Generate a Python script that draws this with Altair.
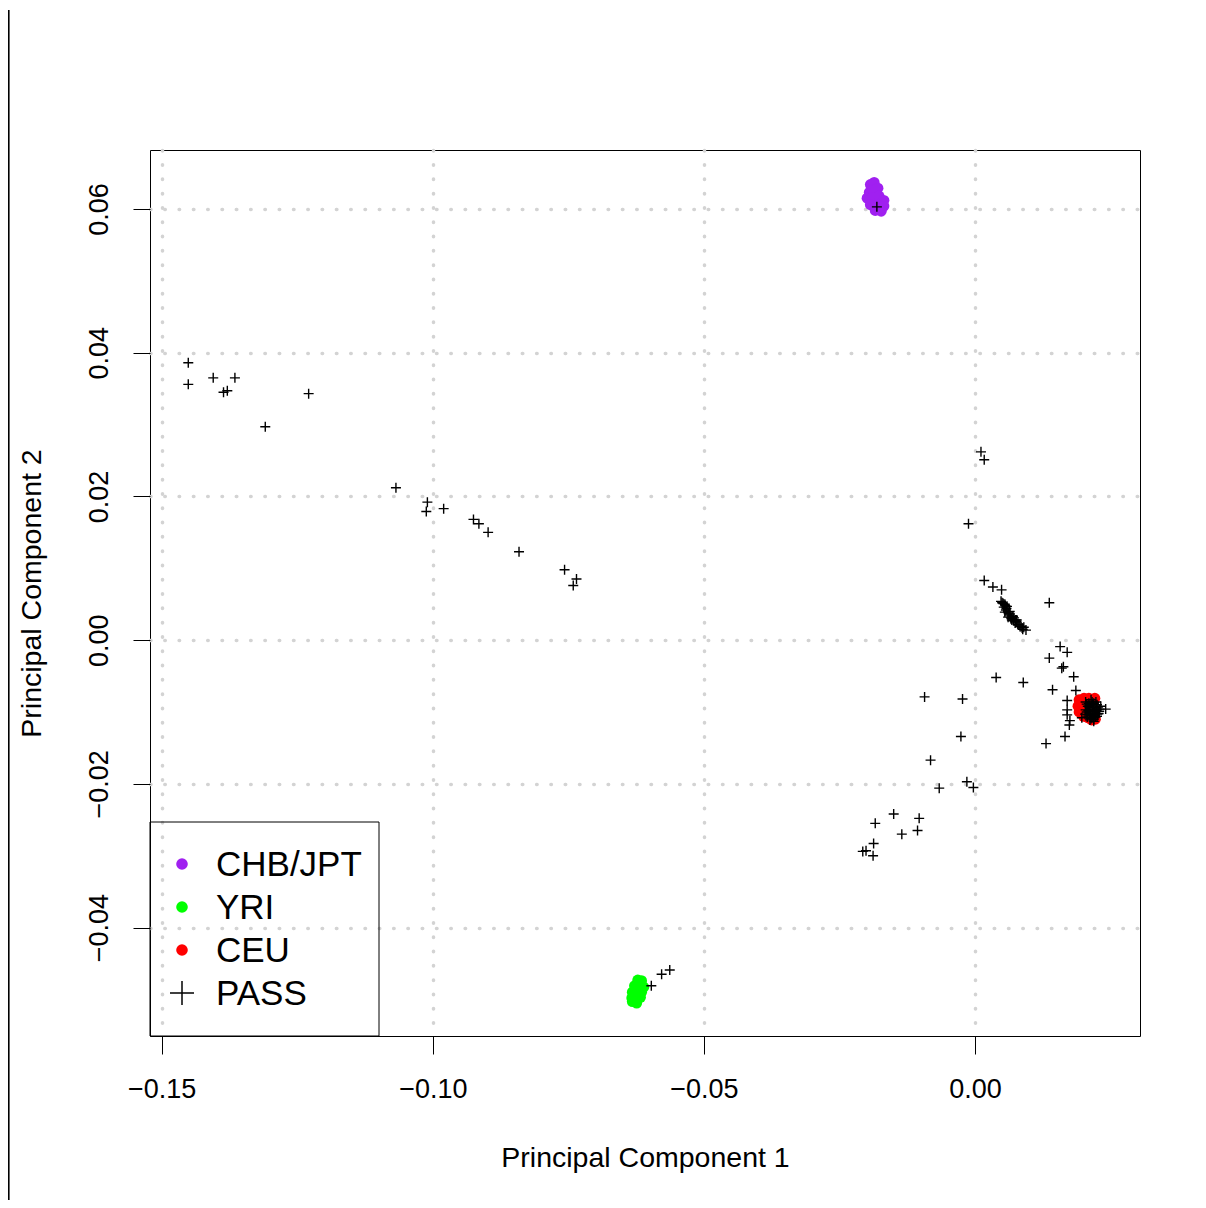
import altair as alt
import pandas as pd

# ---- data ----
chb_x = [-0.0193, -0.0186, -0.0195, -0.0188, -0.0179, -0.0199, -0.0190, -0.0177,
         -0.0168, -0.0193, -0.0180, -0.0168, -0.0184, -0.0173]
chb_y = [0.0634, 0.0637, 0.0623, 0.0626, 0.0629, 0.0615, 0.0615, 0.0618,
         0.0612, 0.0606, 0.0606, 0.0604, 0.0598, 0.0597]

yri_x = [-0.0622, -0.0615, -0.0628, -0.0619, -0.0611, -0.0632, -0.0622, -0.0615,
         -0.0633, -0.0624, -0.0617, -0.0632, -0.0624]
yri_y = [-0.0473, -0.0474, -0.0481, -0.0481, -0.0483, -0.0490, -0.0490, -0.0490,
         -0.0498, -0.0498, -0.0497, -0.0503, -0.0505]

ceu_x = [0.0192, 0.0201, 0.0210, 0.0190, 0.0199, 0.0192, 0.0203, 0.0208,
         0.0215, 0.0221, 0.0200, 0.0222]
ceu_y = [-0.0083, -0.0081, -0.0081, -0.0092, -0.0090, -0.0100, -0.0100, -0.0108,
         -0.0111, -0.0081, -0.0106, -0.0110]

pass_x = [
    -0.1451, -0.1451, -0.1405, -0.1365, -0.1386, -0.1379, -0.1229, -0.1309,
    -0.1068, -0.1010, -0.1012, -0.0980, -0.0925, -0.0915, -0.0898, -0.0841,
    -0.0757, -0.0735, -0.0741,
    -0.0597, -0.0578, -0.0563,
    -0.0181,
    0.0011, 0.0017, -0.0012, 0.0017, 0.0033, 0.0049,
    0.0048, 0.0052, 0.0055, 0.0053, 0.0059, 0.0057, 0.0061, 0.0064, 0.0063,
    0.0066, 0.0070, 0.0068, 0.0072, 0.0076, 0.0074, 0.0079, 0.0077, 0.0083,
    0.0087, 0.0090, 0.0094, 0.0061, 0.0055,
    0.0050, 0.0058, 0.0062, 0.0067, 0.0071, 0.0075, 0.0081, 0.0085, 0.0088, 0.0056,
    0.0137, 0.0157, 0.0170, 0.0137, 0.0163, 0.0160, 0.0039, 0.0089, 0.0143,
    0.0182, 0.0186, 0.0170, 0.0170, 0.0170, 0.0175, 0.0174, 0.0166, 0.0131,
    0.0197, 0.0241,
    -0.0093, -0.0023, -0.0026, -0.0082, -0.0015, -0.0003, -0.0066, -0.0150,
    -0.0103, -0.0184, -0.0106, -0.0135, -0.0187, -0.0207, -0.0201, -0.0188,
    0.0204, 0.0214, 0.0223, 0.0208, 0.0217, 0.0227, 0.0204, 0.0214, 0.0223,
    0.0230, 0.0208, 0.0217, 0.0225, 0.0212, 0.0219, 0.0210, 0.0212, 0.0221,
    0.0216, 0.0228, 0.0206,
    0.0206, 0.0211, 0.0219, 0.0225, 0.0229, 0.0226, 0.0220, 0.0213, 0.0209,
    0.0203, 0.0218, 0.0222, 0.0214, 0.0219, 0.0211, 0.0232, 0.0224, 0.0207,
    0.0216, 0.0221,
]
pass_y = [
    0.0386, 0.0356, 0.0365, 0.0365, 0.0345, 0.0347, 0.0343, 0.0297,
    0.0212, 0.0192, 0.0179, 0.0183, 0.0168, 0.0162, 0.0150, 0.0123,
    0.0098, 0.0085, 0.0076,
    -0.0481, -0.0465, -0.0459,
    0.0603,
    0.0262, 0.0251, 0.0162, 0.0083, 0.0074, 0.0070,
    0.0054, 0.0051, 0.0050, 0.0046, 0.0047, 0.0042, 0.0039, 0.0040, 0.0035,
    0.0032, 0.0033, 0.0028, 0.0031, 0.0026, 0.0024, 0.0022, 0.0028, 0.0019,
    0.0017, 0.0018, 0.0014, 0.0032, 0.0039,
    0.0052, 0.0044, 0.0037, 0.0030, 0.0027, 0.0028, 0.0021, 0.0019, 0.0015, 0.0048,
    0.0052, -0.0009, -0.0017, -0.0025, -0.0037, -0.0039, -0.0052, -0.0059, -0.0069,
    -0.0051, -0.0070, -0.0084, -0.0097, -0.0104, -0.0112, -0.0118, -0.0134, -0.0144,
    -0.0108, -0.0096,
    -0.0079, -0.0082, -0.0134, -0.0167, -0.0197, -0.0205, -0.0206, -0.0242,
    -0.0248, -0.0255, -0.0265, -0.0270, -0.0283, -0.0294, -0.0293, -0.0300,
    -0.0086, -0.0083, -0.0086, -0.0092, -0.0090, -0.0093, -0.0097, -0.0097, -0.0099,
    -0.0096, -0.0104, -0.0104, -0.0106, -0.0111, -0.0113, -0.0088, -0.0102, -0.0094,
    -0.0108, -0.0102, -0.0100,
    -0.0089, -0.0091, -0.0088, -0.0090, -0.0099, -0.0103, -0.0100, -0.0105, -0.0098,
    -0.0103, -0.0096, -0.0107, -0.0109, -0.0110, -0.0094, -0.0092, -0.0097, -0.0107,
    -0.0086, -0.0104,
]

groups = ["CHB/JPT", "YRI", "CEU"]
group_colors = ["#A020F0", "#00FF00", "#FF0000"]
legend_labels = ["CHB/JPT", "YRI", "CEU", "PASS"]
x_ticks = [-0.15, -0.10, -0.05, 0.00]
y_ticks = [-0.04, -0.02, 0.00, 0.02, 0.04, 0.06]

pop = pd.DataFrame({
    "pc1": chb_x + yri_x + ceu_x,
    "pc2": chb_y + yri_y + ceu_y,
    "group": ["CHB/JPT"] * len(chb_x) + ["YRI"] * len(yri_x) + ["CEU"] * len(ceu_x),
})
passed = pd.DataFrame({"pc1": pass_x, "pc2": pass_y})

PLUS = "M-1,0L1,0M0,-1L0,1"
FONT = "Liberation Sans"
W, H = 990, 886

xs = alt.Scale(domain=[-0.15216, 0.03043], nice=False, zero=False)
ys = alt.Scale(domain=[-0.05509, 0.06821], nice=False, zero=False)

xaxis = alt.Axis(values=x_ticks, format=".2f", title="Principal Component 1",
                 titlePadding=41, labelPadding=22, tickSize=18)
yaxis = alt.Axis(values=y_ticks, format=".2f", title="Principal Component 2",
                 labelAngle=270, labelAlign="center", labelBaseline="alphabetic",
                 titlePadding=39, labelPadding=26, tickSize=17)

circles = alt.Chart(pop).mark_circle(size=120, opacity=1).encode(
    x=alt.X("pc1:Q", scale=xs, axis=xaxis),
    y=alt.Y("pc2:Q", scale=ys, axis=yaxis),
    color=alt.Color("group:N", scale=alt.Scale(domain=groups, range=group_colors), legend=None),
)

pluses = alt.Chart(passed).mark_point(
    shape=PLUS, size=100, filled=False, stroke="black", strokeWidth=1.4, opacity=1
).encode(
    x=alt.X("pc1:Q", scale=xs, axis=xaxis),
    y=alt.Y("pc2:Q", scale=ys, axis=yaxis),
)

one = pd.DataFrame({"k": [0]})
legend_box = alt.Chart(one).mark_rect(fill="transparent", stroke="black", strokeWidth=1).encode(
    x=alt.value(0), x2=alt.value(229), y=alt.value(672), y2=alt.value(H)
)

legend_layers = []
row_y0, row_dy = 714, 43
for i, lab in enumerate(legend_labels):
    ldf = pd.DataFrame({"label": [lab]})
    yy = row_y0 + row_dy * i
    if i < 3:
        sym = alt.Chart(ldf).mark_circle(size=135, opacity=1, color=group_colors[i]).encode(
            x=alt.value(32), y=alt.value(yy))
    else:
        sym = alt.Chart(ldf).mark_point(shape=PLUS, size=576, filled=False, stroke="black",
                                         strokeWidth=1.5, opacity=1).encode(
            x=alt.value(32), y=alt.value(yy))
    txt = alt.Chart(ldf).mark_text(align="left", baseline="middle", fontSize=35, font=FONT,
                                    color="black").encode(
        x=alt.value(66), y=alt.value(yy + 1), text="label:N")
    legend_layers += [sym, txt]

page_line = alt.Chart(one).mark_rule(color="black", strokeWidth=1.6).encode(
    x=alt.value(-141.2), y=alt.value(-140), y2=alt.value(1060)
)

chart = alt.layer(circles, pluses, legend_box, *legend_layers, page_line).properties(
    width=W, height=H,
    autosize=alt.AutoSizeParams(type="none"),
    padding={"left": 142, "top": 142, "right": 50, "bottom": 164},
).configure_view(
    stroke="black", strokeWidth=1
).configure_axis(
    domain=False,
    tickColor="black", tickWidth=1,
    labelFont=FONT, labelFontSize=27, labelColor="black",
    titleFont=FONT, titleFontSize=28.5, titleFontWeight="normal", titleColor="black",
    grid=True, gridColor="#D3D3D3", gridWidth=3.5, gridDash=[0.5, 13.8], gridCap="round",
)

chart.save("out.html", embed_options={"renderer": "svg", "actions": False})
